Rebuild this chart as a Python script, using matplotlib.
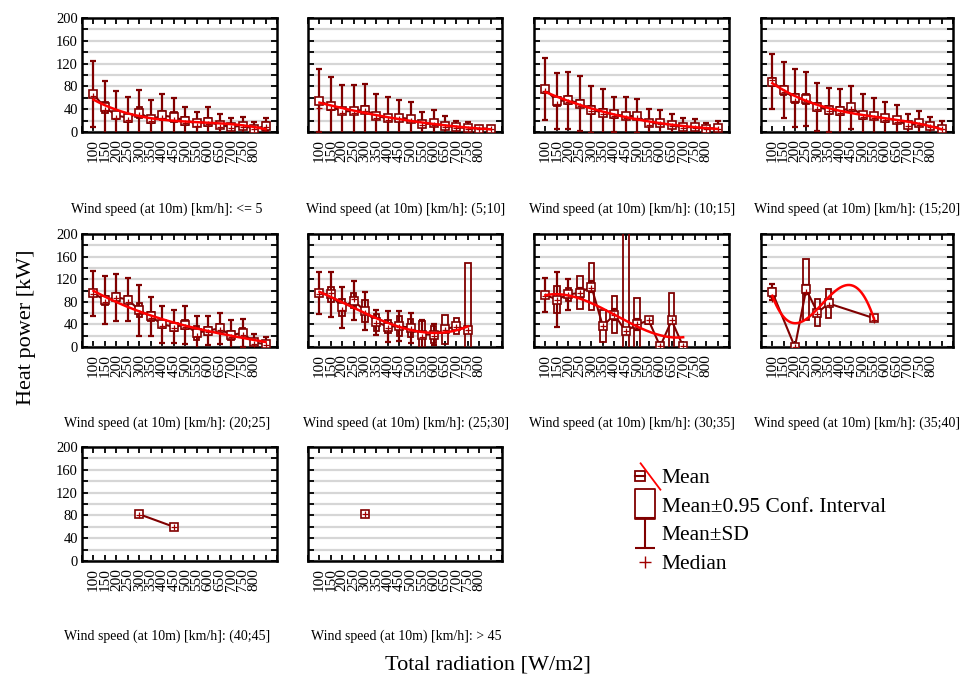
import numpy as np
import matplotlib
matplotlib.use("Agg")
import matplotlib.pyplot as plt
from matplotlib.lines import Line2D
from matplotlib.path import Path
from matplotlib.legend_handler import HandlerTuple

plt.rcParams['font.family'] = ['Liberation Serif', 'DejaVu Serif']

MAROON = '#800000'
FIT_RED = '#FF0000'

# ---------------- data ----------------
RAD = [100, 150, 200, 250, 300, 350, 400, 450, 500, 550, 600, 650, 700, 750, 800, 850]
RAD_TICK_LABELS = [100, 150, 200, 250, 300, 350, 400, 450, 500, 550, 600, 650, 700, 750, 800]

TITLES = [
    'Wind speed (at 10m) [km/h]: <= 5',
    'Wind speed (at 10m) [km/h]: (5;10]',
    'Wind speed (at 10m) [km/h]: (10;15]',
    'Wind speed (at 10m) [km/h]: (15;20]',
    'Wind speed (at 10m) [km/h]: (20;25]',
    'Wind speed (at 10m) [km/h]: (25;30]',
    'Wind speed (at 10m) [km/h]: (30;35]',
    'Wind speed (at 10m) [km/h]: (35;40]',
    'Wind speed (at 10m) [km/h]: (40;45]',
    'Wind speed (at 10m) [km/h]: > 45',
]

p1_x = RAD
p1_mean = [66, 43, 29, 25, 34, 22, 29, 26, 20, 15, 18, 12, 9, 11, 6, 10]
p1_sd = [58, 47, 43, 37, 40, 35, 37, 34, 24, 20, 26, 19, 16, 15, 12, 15]
p1_ci = [5, 9, 6, 7, 9, 6, 8, 9, 7, 5, 7, 5, 4, 4, 3, 8]
p1_med = [63, 38, 24, 21, 29, 19, 24, 21, 16, 11, 14, 9, 7, 8, 5, 8]

p2_x = RAD
p2_mean = [55, 45, 36, 37, 39, 28, 24, 25, 23, 14, 15, 11, 8, 7, 6, 6]
p2_sd = [55, 52, 47, 45, 46, 38, 38, 31, 30, 21, 24, 17, 11, 11, 5, 4]
p2_ci = [5, 6, 5, 5, 6, 5, 5, 5, 5, 4, 4, 4, 3, 3, 2, 2]
p2_med = [42, 41, 33, 34, 36, 25, 21, 22, 20, 12, 13, 9, 7, 6, 5, 5]

p3_x = RAD
p3_mean = [75, 54, 56, 50, 39, 34, 31, 28, 28, 15, 16, 12, 8, 9, 6, 7]
p3_sd = [54, 49, 50, 48, 41, 41, 31, 33, 30, 26, 23, 20, 17, 14, 10, 12]
p3_ci = [6, 8, 7, 7, 7, 6, 6, 6, 6, 5, 5, 4, 4, 3, 3, 3]
p3_med = [72, 50, 53, 46, 36, 31, 28, 25, 25, 13, 14, 10, 7, 7, 5, 6]

p4_x = RAD
p4_mean = [88, 73, 59, 58, 44, 39, 36, 43, 29, 28, 24, 21, 12, 15, 11, 6]
p4_sd = [48, 49, 51, 48, 42, 39, 39, 37, 38, 31, 29, 27, 19, 22, 16, 13]
p4_ci = [7, 8, 8, 8, 7, 7, 7, 7, 6, 6, 6, 5, 4, 4, 3, 3]
p4_med = [92, 70, 55, 55, 41, 36, 33, 40, 26, 25, 21, 18, 10, 13, 9, 5]

p5_x = RAD
p5_mean = [95, 83, 88, 84, 65, 54, 40, 36, 39, 25, 29, 33, 21, 25, 8, 5]
p5_sd = [40, 42, 42, 38, 45, 34, 33, 29, 33, 30, 25, 27, 26, 25, 15, 13]
p5_ci = [5, 8, 7, 7, 12, 8, 7, 7, 8, 12, 7, 7, 8, 8, 4, 4]
p5_med = [93, 80, 86, 80, 60, 51, 37, 33, 36, 20, 26, 30, 18, 22, 6, 4]

p6_x = RAD[:14]
p6_mean = [95, 93, 70, 82, 64, 44, 36, 37, 34, 22, 22, 31, 37, 30]
p6_sd = [37, 40, 37, 34, 34, 22, 28, 26, 27, 26, 19, 4, 4, 3]
p6_ci = [5, 13, 15, 13, 20, 15, 12, 17, 16, 24, 15, 25, 14, 119]
p6_med = [94, 95, 65, 85, 60, 42, 33, 35, 32, 18, 20, 30, 36, 30]

p7_x = RAD[:13]
p7_mean = [92, 84, 93, 96, 107, 37, 57, 28, 40, 47, 1, 47, 1]
p7_sd = [30, 48, 27, 8, 10, 5, 10, 5, 10, 5, 0, 5, 0]
p7_ci = [5, 24, 12, 29, 42, 29, 33, 250, 46, 6, 2, 48, 2]
p7_med = [90, 84, 92, 96, 105, 37, 57, 28, 40, 47, 1, 47, 1]

p8_x = [100, 200, 250, 300, 350, 550]
p8_mean = [97, 0, 102, 61, 77, 51]
p8_sd = [14, 0, 8, 5, 5, 2]
p8_ci = [8, 1, 54, 24, 26, 2]
p8_med = [85, 0, 97, 58, 75, 47]

p9_x = [300, 450]
p9_mean = [82, 60]
p9_sd = [3, 1]
p9_ci = [5, 2]
p9_med = [80, 60]

p10_x = [300]
p10_mean = [82]
p10_sd = [1]
p10_ci = [2]
p10_med = [82]

panels = [
    (p1_x, p1_mean, p1_sd, p1_ci, p1_med),
    (p2_x, p2_mean, p2_sd, p2_ci, p2_med),
    (p3_x, p3_mean, p3_sd, p3_ci, p3_med),
    (p4_x, p4_mean, p4_sd, p4_ci, p4_med),
    (p5_x, p5_mean, p5_sd, p5_ci, p5_med),
    (p6_x, p6_mean, p6_sd, p6_ci, p6_med),
    (p7_x, p7_mean, p7_sd, p7_ci, p7_med),
    (p8_x, p8_mean, p8_sd, p8_ci, p8_med),
    (p9_x, p9_mean, p9_sd, p9_ci, p9_med),
    (p10_x, p10_mean, p10_sd, p10_ci, p10_med),
]

# ---------------- layout ----------------
W, H = 964, 678
fig = plt.figure(figsize=(W / 100, H / 100), dpi=100)

COLS = [(82, 277), (308, 502), (534, 729), (761, 953)]
ROWS = [(18, 132), (234, 347), (447, 561)]
TITLE_X = [167, 406, 632, 857]
TITLE_Y = [209, 423, 636]


def px_rect(l, t, r, b):
    return [l / W, 1 - b / H, (r - l) / W, (b - t) / H]


for i, (x, m, s, c, md) in enumerate(panels):
    row, col = divmod(i, 4)
    l, r = COLS[col]
    t, b = ROWS[row]
    ax = fig.add_axes(px_rect(l, t, r, b))
    x = np.asarray(x, float)
    m = np.asarray(m, float)
    s = np.asarray(s, float)
    c = np.asarray(c, float)
    md = np.asarray(md, float)

    ax.errorbar(x, m, yerr=s, fmt='none', ecolor=MAROON, elinewidth=1.6,
                capsize=2.2, capthick=1.6, zorder=3)
    ax.bar(x, 2 * c, bottom=m - c, width=24, fill=False, edgecolor=MAROON,
           linewidth=1.3, zorder=4)
    ax.plot(x, m, color=MAROON, lw=1.5, marker='s', ms=5.4, mfc='white',
            mec=MAROON, mew=1.2, zorder=5)
    ax.plot(x, md, ls='none', marker='+', color='#A00000', ms=4.5, mew=0.9, zorder=6)
    if len(x) >= 4:
        coef = np.polyfit(x, m, 3)
        xx = np.linspace(x.min(), x.max(), 300)
        ax.plot(xx, np.polyval(coef, xx), color=FIT_RED, lw=1.8, zorder=7)

    ax.set_xlim(50, 900)
    ax.set_ylim(0, 200)
    ax.set_xticks(range(50, 901, 50))
    ax.set_xticklabels([str(v) if v in RAD_TICK_LABELS else '' for v in range(50, 901, 50)],
                       rotation=90, fontsize=11)
    ax.set_yticks(range(0, 201, 20))
    if col == 0:
        ax.set_yticklabels([str(v) if v % 40 == 0 else '' for v in range(0, 201, 20)],
                           fontsize=10.5)
    else:
        ax.set_yticklabels([])
    ax.tick_params(direction='in', length=4, width=1.3, top=True, right=True, pad=3)
    ax.tick_params(axis='x', pad=5)
    ax.grid(axis='y', color='#d6d6d6', lw=1.6)
    ax.set_axisbelow(True)
    for sp in ax.spines.values():
        sp.set_linewidth(1.8)
        sp.set_color('black')

    fig.text(TITLE_X[col] / W, 1 - TITLE_Y[row] / H, TITLES[i], ha='center',
             va='center', fontsize=10)

fig.text(27 / W, 1 - 327 / H, 'Heat power [kW]', rotation=90, ha='center',
         va='center', fontsize=16)
fig.text(488 / W, 1 - 665 / H, 'Total radiation [W/m2]', ha='center',
         va='center', fontsize=16)

# ---------------- legend ----------------
diag = Path([(-0.75, 1), (0.75, -1)], [Path.MOVETO, Path.LINETO])
rect = Path([(-0.67, -1), (0.67, -1), (0.67, 1), (-0.67, 1), (-0.67, -1)],
            [Path.MOVETO, Path.LINETO, Path.LINETO, Path.LINETO, Path.CLOSEPOLY])
ibeam = Path([(-0.7, 1), (0.7, 1), (0, 1), (0, -1), (-0.7, -1), (0.7, -1)],
             [Path.MOVETO, Path.LINETO, Path.MOVETO, Path.LINETO, Path.MOVETO, Path.LINETO])

h_mean = (Line2D([], [], color=MAROON, lw=1.5, marker='s', ms=7, mfc='none', mew=1.3),
          Line2D([], [], ls='none', marker=diag, ms=20, mec=FIT_RED, mew=1.3))
h_ci = Line2D([], [], ls='none', marker=rect, ms=21, mfc='none', mec=MAROON, mew=1.3)
h_sd = Line2D([], [], ls='none', marker=ibeam, ms=21, mfc='none', mec=MAROON, mew=1.5)
h_med = Line2D([], [], ls='none', marker='+', ms=9, mec='#A00000', mew=1.0)

fig.legend([h_mean, h_ci, h_sd, h_med],
           ['Mean', 'Mean\u00b10.95 Conf. Interval', 'Mean\u00b1SD', 'Median'],
           loc='upper left', bbox_to_anchor=(635 / W, 1 - 468 / H), frameon=False,
           fontsize=15.5, handlelength=0.95, handletextpad=0.3, labelspacing=0.4,
           borderpad=0, borderaxespad=0,
           handler_map={tuple: HandlerTuple(ndivide=None)})

fig.savefig('out.png', dpi=100)
